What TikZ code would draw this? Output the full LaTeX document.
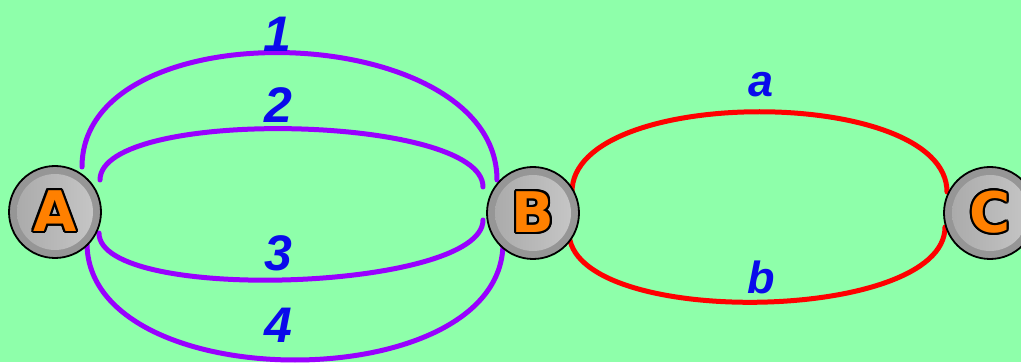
\documentclass[tikz,border=0pt]{standalone}
\usepackage{fontspec}
\setmainfont{Liberation Sans}
\newfontfamily\stationfont{DejaVu Sans}
\usepackage{contour}
\contourlength{2pt}
\definecolor{bggreen}{RGB}{142,255,170}
\definecolor{arcpurple}{RGB}{153,0,255}
\definecolor{arcred}{RGB}{255,0,0}
\definecolor{labelblue}{RGB}{10,10,235}
\definecolor{letterorange}{RGB}{255,128,0}
\definecolor{ringgray}{RGB}{150,150,150}
\definecolor{innerleft}{RGB}{168,168,168}
\definecolor{innerright}{RGB}{200,200,200}
\pgfdeclarelayer{bg}
\pgfdeclarelayer{arcs}
\pgfsetlayers{bg,arcs,main}
\tikzset{
  station/.style={circle, draw=black, line width=1.8pt, fill=ringgray,
    minimum size=92pt, inner sep=0pt,
    path picture={\shade[left color=innerleft, right color=innerright]
      (path picture bounding box.center) circle (38pt);},
    font=\stationfont\fontsize{56}{56}\selectfont\bfseries},
  purplearc/.style={draw=arcpurple, line width=5pt, line cap=round},
  redarc/.style={draw=arcred, line width=5pt, line cap=round},
  numlabel/.style={anchor=base, text=labelblue, inner sep=0pt,
    font=\fontsize{50}{50}\selectfont\bfseries\itshape},
  letlabel/.style={anchor=base, text=labelblue, inner sep=0pt,
    font=\fontsize{45}{45}\selectfont\bfseries\itshape}
}
\begin{document}
\begin{tikzpicture}[x=1pt,y=1pt]
\useasboundingbox (0,0) rectangle (1021,362);
\begin{pgfonlayer}{bg}
\fill[bggreen] (0,0) rectangle (1021,362);
\end{pgfonlayer}
\clip (0,0) rectangle (1021,362);
\node[station] (A) at (55,150) {\contour{black}{\textcolor{letterorange}{A}}};
\node[station] (B) at (533,149) {\contour{black}{\textcolor{letterorange}{B}}};
\node[station] (C) at (990,149) {\contour{black}{\textcolor{letterorange}{C}}};
\begin{pgfonlayer}{arcs}
\draw[purplearc] ([shift={(27,45)}]A.center) .. controls +(0,161) and +(0,161) .. ([shift={(-36,33)}]B.center);
\draw[purplearc] ([shift={(45,32)}]A.center) .. controls +(0,73) and +(0,73) .. ([shift={(-50,26)}]B.center);
\draw[purplearc] ([shift={(44,-21)}]A.center) .. controls +(0,-71) and +(0,-71) .. ([shift={(-50,-7)}]B.center);
\draw[purplearc] ([shift={(32,-31)}]A.center) .. controls +(0,-156) and +(0,-156) .. ([shift={(-30,-30)}]B.center);
\draw[redarc] ([shift={(39,21)}]B.center) .. controls +(0,107) and +(0,107) .. ([shift={(-43,21)}]C.center);
\draw[redarc] ([shift={(36,-19)}]B.center) .. controls +(0,-97) and +(0,-97) .. ([shift={(-45,-14)}]C.center);
\end{pgfonlayer}
\node[numlabel] (n1) at (277,310) {1};
\node[numlabel] (n2) at (278,239) {2};
\node[numlabel] (n3) at (278,92) {3};
\node[numlabel] (n4) at (278,20) {4};
\node[letlabel] (la) at (761,265) {a};
\node[letlabel] (lb) at (761,69) {b};
\end{tikzpicture}
\end{document}
